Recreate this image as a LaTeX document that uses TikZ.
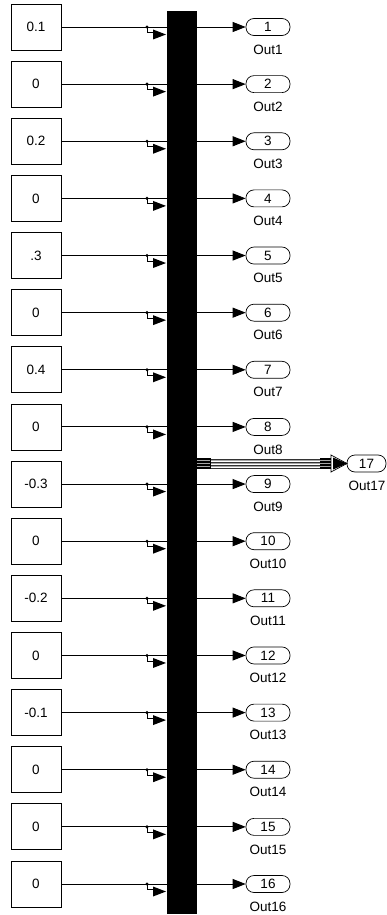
\documentclass[tikz,border=0pt]{standalone}
\usepackage{fontspec}
\setmainfont{Liberation Sans}
\usetikzlibrary{arrows.meta}
\begin{document}
\begin{tikzpicture}[x=1pt,y=-1pt,
  constbox/.style={draw=black, line width=0.8pt, minimum width=50pt, minimum height=46pt, inner sep=0pt, font=\fontsize{13.5}{14}\selectfont},
  outport/.style={draw=black, line width=0.7pt, minimum width=44pt, minimum height=17pt, rounded corners=8pt, inner sep=0pt, font=\fontsize{13.5}{14}\selectfont},
  lbl/.style={inner sep=0pt, font=\fontsize{13.5}{14}\selectfont},
  sig/.style={line width=0.9pt},
  arr/.style={sig, -{Triangle[length=13pt,width=10pt]}}
]
\useasboundingbox[fill=white] (0,0) rectangle (387,915);
\node[fill=black, minimum width=30pt, minimum height=903pt, inner sep=0pt] (mux) at (182,462.5) {};
\foreach \val [count=\i] in {0.1,0,0.2,0,.3,0,0.4,0,-0.3,0,-0.2,0,-0.1,0,0,0} {
  \pgfmathsetmacro\cy{27+(\i-1)*57.133}
  \node[constbox] (c\i) at (36,\cy) {\val};
  \node[outport] (o\i) at (268,\cy) {\i};
  \node[lbl] (l\i) at (268,\cy+22.5) {Out\i};
  \coordinate (d\i) at (147,\cy);
  \draw[sig] (c\i.east) -- (c\i.east -| mux.west);
  \fill (d\i) circle (1.7);
  \draw[sig] (d\i) -- ++(0,5.5) -- ++(6.5,0);
  \fill (153,\cy+2.5) -- (153,\cy+12.5) -- (166,\cy+7.5) -- cycle;
  \draw[arr] (o\i.west -| mux.east) -- (o\i.west);
}
% bus to Out17
\node[outport, minimum width=39pt] (o17) at (366.5,463.5) {17};
\node[lbl] (l17) at (367,486) {Out17};
\coordinate (b0) at (mux.east |- o17.west);
\coordinate (b1) at (331,463.5);
\foreach \o in {-4.5,-1.5,1.5,4.5} {
  \draw[line width=0.8pt, black!80] ([yshift=\o pt]b0) -- ([yshift=\o pt]b1);
  \draw[line width=1.3pt] ([yshift=\o pt]b0) -- ++(13,0);
  \draw[line width=1.3pt] ([yshift=\o pt]b1) -- ++(-11,0);
}
\foreach \o in {-3,0,3} {
  \draw[line width=0.7pt, black!35] ([yshift=\o pt]b0) -- ([yshift=\o pt]b1);
}
\draw[line width=0.8pt] ([yshift=5.5pt]b0) ++(13,0) -- ++(0,11);
\draw[line width=0.8pt] ([yshift=6pt]b1) -- ++(0,12);
\draw[line width=0.7pt, fill=white] (331,455) -- (331,472) -- (347,463.5) -- cycle;
\fill (333,457.5) -- (333,469.5) -- (347,463.5) -- cycle;
\end{tikzpicture}
\end{document}
